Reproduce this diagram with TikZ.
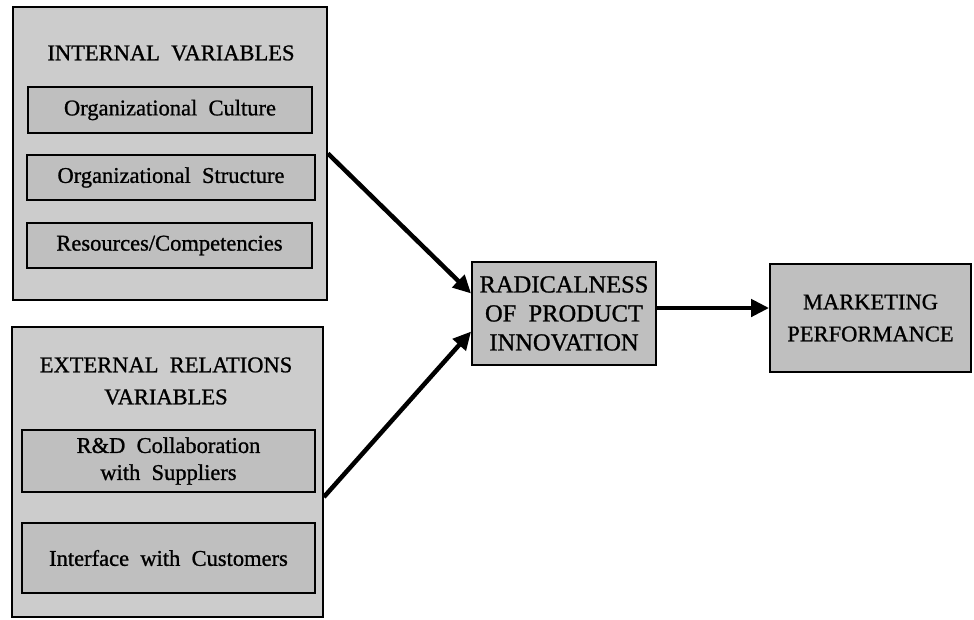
\documentclass[tikz,border=0pt]{standalone}
\usepackage{fontspec}
\setmainfont[FakeBold=1]{Liberation Serif}
\usetikzlibrary{arrows.meta}
\begin{document}
\begin{tikzpicture}[x=1pt,y=-1pt,
  outerbox/.style={draw=black, line width=1.8pt, fill=black!20, inner sep=0pt},
  box/.style={draw=black, line width=1.8pt, fill=black!25, inner sep=0pt, align=center,
    font=\fontsize{22.5}{28}\selectfont},
  lbl/.style={inner sep=0pt, align=center, font=\fontsize{22.5}{32}\selectfont},
  arr/.style={line width=4.5pt, -{Triangle[length=18pt,width=17pt]}}]
\useasboundingbox (0,0) rectangle (974,619);
% internal variables
\node[outerbox, minimum width=314pt, minimum height=293pt] (int) at (170,153.5) {};
\node[lbl] (intt) at (171,53) {INTERNAL\ \ VARIABLES};
\node[box, minimum width=284pt, minimum height=46pt] (cult) at (170,110) {Organizational\ \ Culture};
\node[box, minimum width=288pt, minimum height=45pt] (stru) at (171,177.5) {Organizational\ \ Structure};
\node[box, minimum width=285pt, minimum height=45pt] (reso) at (169.5,245.5) {Resources/Competencies};
% external relations variables
\node[outerbox, minimum width=311pt, minimum height=290pt] (ext) at (167.5,472) {};
\node[lbl] (extt) at (166,381) {EXTERNAL\ \ RELATIONS\\VARIABLES};
\node[box, minimum width=293pt, minimum height=62pt, font=\fontsize{22.5}{27}\selectfont] (rnd) at (168.5,461) {R\&D\ \ Collaboration\\with\ \ Suppliers};
\node[box, minimum width=293pt, minimum height=70pt] (cust) at (168.5,558) {Interface\ \ with\ \ Customers};
% radicalness and marketing
\node[box, minimum width=184pt, minimum height=103pt, font=\fontsize{24.5}{29}\selectfont] (rad) at (564,313.5) {RADICALNESS\\OF\ \ PRODUCT\\INNOVATION};
\node[box, minimum width=201pt, minimum height=108pt, font=\fontsize{22.5}{32}\selectfont] (mkt) at (870.5,318) {MARKETING\\PERFORMANCE};
% arrows
\draw[arr] (int.east) -- ([yshift=20pt]rad.west);
\draw[arr] ([yshift=-25pt]ext.east) -- ([yshift=-18pt]rad.west);
\draw[arr] ([yshift=5.5pt]rad.east) -- ([yshift=5.5pt]rad.east -| mkt.west);
\end{tikzpicture}
\end{document}
